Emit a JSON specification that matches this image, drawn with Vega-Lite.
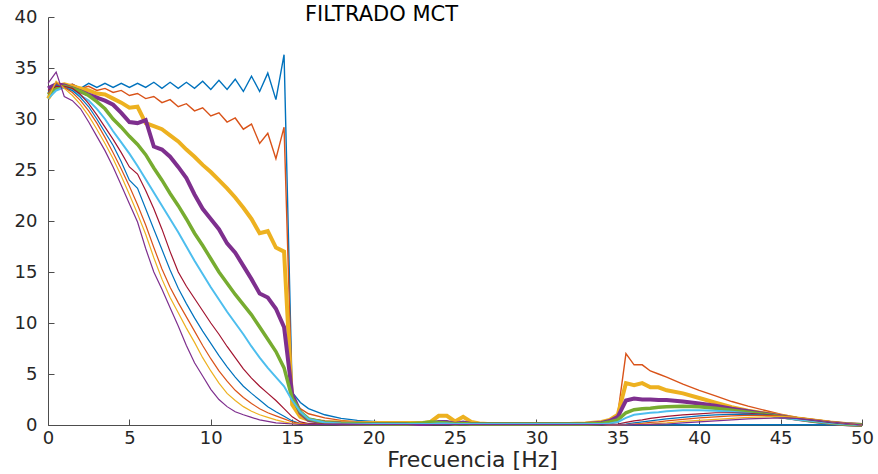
{
"$schema":"https://vega.github.io/schema/vega-lite/v6.json",
"width":814,"height":408,
"autosize":{"type":"none"},
"padding":{"left":48,"top":17,"right":16,"bottom":49},
"background":"white",
"title":{"text":"FILTRADO MCT","anchor":"start","frame":"group","dx":257,"offset":0,"dy":28,"baseline":"middle","fontSize":21,"fontWeight":"normal","font":"DejaVu Sans","color":"#000000"},
"config":{"view":{"stroke":null},"axis":{"grid":false,"domainColor":"#4d4d4d","tickColor":"#4d4d4d","labelColor":"#262626","labelFont":"DejaVu Sans","labelFontSize":18,"labelFlush":false,"labelOverlap":false,"tickSize":-6,"titleFont":"DejaVu Sans","titleFontSize":22,"titleColor":"#262626","titleFontWeight":"normal"}},
"data":{"values":[
{"s":"s01","f":0,"v":32.3},{"s":"s01","f":0.5,"v":33.6},{"s":"s01","f":1,"v":33.0},{"s":"s01","f":1.5,"v":33.4},{"s":"s01","f":2,"v":33.0},{"s":"s01","f":2.5,"v":33.5},{"s":"s01","f":3,"v":33.1},{"s":"s01","f":3.5,"v":33.5},{"s":"s01","f":4,"v":33.1},{"s":"s01","f":4.5,"v":33.5},{"s":"s01","f":5,"v":33.1},{"s":"s01","f":5.5,"v":33.5},{"s":"s01","f":6,"v":33.1},{"s":"s01","f":6.5,"v":33.6},{"s":"s01","f":7,"v":33.0},{"s":"s01","f":7.5,"v":33.6},{"s":"s01","f":8,"v":33.0},{"s":"s01","f":8.5,"v":33.6},{"s":"s01","f":9,"v":33.0},{"s":"s01","f":9.5,"v":33.7},{"s":"s01","f":10,"v":32.9},{"s":"s01","f":10.5,"v":33.8},{"s":"s01","f":11,"v":32.9},{"s":"s01","f":11.5,"v":33.9},{"s":"s01","f":12,"v":32.7},{"s":"s01","f":12.5,"v":34.2},{"s":"s01","f":13,"v":32.7},{"s":"s01","f":13.5,"v":34.5},{"s":"s01","f":14,"v":31.9},{"s":"s01","f":14.5,"v":36.3},{"s":"s01","f":15,"v":3.2},{"s":"s01","f":15.5,"v":2.2},{"s":"s01","f":16,"v":1.6},{"s":"s01","f":17,"v":1.0},{"s":"s01","f":18,"v":0.65},{"s":"s01","f":19,"v":0.45},{"s":"s01","f":20,"v":0.35},{"s":"s01","f":21,"v":0.25},{"s":"s01","f":22,"v":0.2},{"s":"s01","f":23,"v":0.15},{"s":"s01","f":23.5,"v":0.15},{"s":"s01","f":24,"v":0.15},{"s":"s01","f":24.5,"v":0.15},{"s":"s01","f":25,"v":0.12},{"s":"s01","f":25.5,"v":0.12},{"s":"s01","f":26,"v":0.1},{"s":"s01","f":26.5,"v":0.1},{"s":"s01","f":27,"v":0.1},{"s":"s01","f":28,"v":0.1},{"s":"s01","f":29,"v":0.1},{"s":"s01","f":30,"v":0.1},{"s":"s01","f":31,"v":0.1},{"s":"s01","f":32,"v":0.1},{"s":"s01","f":33,"v":0.1},{"s":"s01","f":34,"v":0.08},{"s":"s01","f":34.5,"v":0.05},{"s":"s01","f":35,"v":0.03},{"s":"s01","f":35.5,"v":0.02},{"s":"s01","f":36,"v":0.02},{"s":"s01","f":36.5,"v":0.02},{"s":"s01","f":37,"v":0.02},{"s":"s01","f":37.5,"v":0.02},{"s":"s01","f":38,"v":0.02},{"s":"s01","f":39,"v":0.02},{"s":"s01","f":40,"v":0.02},{"s":"s01","f":41,"v":0.02},{"s":"s01","f":42,"v":0.02},{"s":"s01","f":43,"v":0.02},{"s":"s01","f":44,"v":0.02},{"s":"s01","f":45,"v":0.02},{"s":"s01","f":46,"v":0.02},{"s":"s01","f":47,"v":0.02},{"s":"s01","f":48,"v":0.02},{"s":"s01","f":49,"v":0.02},{"s":"s01","f":50,"v":0},
{"s":"s02","f":0,"v":32.8},{"s":"s02","f":0.5,"v":33.2},{"s":"s02","f":1,"v":33.3},{"s":"s02","f":1.5,"v":33.4},{"s":"s02","f":2,"v":33.0},{"s":"s02","f":2.5,"v":33.2},{"s":"s02","f":3,"v":32.8},{"s":"s02","f":3.5,"v":33.0},{"s":"s02","f":4,"v":32.6},{"s":"s02","f":4.5,"v":32.8},{"s":"s02","f":5,"v":32.3},{"s":"s02","f":5.5,"v":32.5},{"s":"s02","f":6,"v":32.0},{"s":"s02","f":6.5,"v":32.2},{"s":"s02","f":7,"v":31.6},{"s":"s02","f":7.5,"v":31.9},{"s":"s02","f":8,"v":31.2},{"s":"s02","f":8.5,"v":31.5},{"s":"s02","f":9,"v":30.8},{"s":"s02","f":9.5,"v":31.1},{"s":"s02","f":10,"v":30.3},{"s":"s02","f":10.5,"v":30.6},{"s":"s02","f":11,"v":29.7},{"s":"s02","f":11.5,"v":30.1},{"s":"s02","f":12,"v":29.0},{"s":"s02","f":12.5,"v":29.5},{"s":"s02","f":13,"v":27.6},{"s":"s02","f":13.5,"v":28.6},{"s":"s02","f":14,"v":26.1},{"s":"s02","f":14.5,"v":29.2},{"s":"s02","f":15,"v":2.6},{"s":"s02","f":15.5,"v":1.6},{"s":"s02","f":16,"v":1.1},{"s":"s02","f":17,"v":0.7},{"s":"s02","f":18,"v":0.45},{"s":"s02","f":19,"v":0.3},{"s":"s02","f":20,"v":0.25},{"s":"s02","f":21,"v":0.2},{"s":"s02","f":22,"v":0.2},{"s":"s02","f":23,"v":0.15},{"s":"s02","f":23.5,"v":0.15},{"s":"s02","f":24,"v":0.15},{"s":"s02","f":24.5,"v":0.15},{"s":"s02","f":25,"v":0.15},{"s":"s02","f":25.5,"v":0.15},{"s":"s02","f":26,"v":0.12},{"s":"s02","f":26.5,"v":0.1},{"s":"s02","f":27,"v":0.1},{"s":"s02","f":28,"v":0.1},{"s":"s02","f":29,"v":0.1},{"s":"s02","f":30,"v":0.1},{"s":"s02","f":31,"v":0.1},{"s":"s02","f":32,"v":0.1},{"s":"s02","f":33,"v":0.15},{"s":"s02","f":34,"v":0.25},{"s":"s02","f":34.5,"v":0.5},{"s":"s02","f":35,"v":1.1},{"s":"s02","f":35.5,"v":7.0},{"s":"s02","f":36,"v":5.9},{"s":"s02","f":36.5,"v":5.9},{"s":"s02","f":37,"v":5.3},{"s":"s02","f":37.5,"v":5.0},{"s":"s02","f":38,"v":4.7},{"s":"s02","f":39,"v":4.0},{"s":"s02","f":40,"v":3.4},{"s":"s02","f":41,"v":2.85},{"s":"s02","f":42,"v":2.3},{"s":"s02","f":43,"v":1.85},{"s":"s02","f":44,"v":1.45},{"s":"s02","f":45,"v":1.05},{"s":"s02","f":46,"v":0.75},{"s":"s02","f":47,"v":0.5},{"s":"s02","f":48,"v":0.3},{"s":"s02","f":49,"v":0.12},{"s":"s02","f":50,"v":0},
{"s":"s03","f":0,"v":32.0},{"s":"s03","f":0.5,"v":33.2},{"s":"s03","f":1,"v":33.4},{"s":"s03","f":1.5,"v":33.2},{"s":"s03","f":2,"v":33.0},{"s":"s03","f":2.5,"v":32.8},{"s":"s03","f":3,"v":32.5},{"s":"s03","f":3.5,"v":32.4},{"s":"s03","f":4,"v":32.0},{"s":"s03","f":4.5,"v":31.6},{"s":"s03","f":5,"v":31.1},{"s":"s03","f":5.5,"v":31.2},{"s":"s03","f":6,"v":29.6},{"s":"s03","f":6.5,"v":29.3},{"s":"s03","f":7,"v":29.0},{"s":"s03","f":7.5,"v":28.4},{"s":"s03","f":8,"v":27.8},{"s":"s03","f":8.5,"v":27.0},{"s":"s03","f":9,"v":26.3},{"s":"s03","f":9.5,"v":25.5},{"s":"s03","f":10,"v":24.8},{"s":"s03","f":10.5,"v":24.0},{"s":"s03","f":11,"v":23.2},{"s":"s03","f":11.5,"v":22.3},{"s":"s03","f":12,"v":21.3},{"s":"s03","f":12.5,"v":20.2},{"s":"s03","f":13,"v":18.8},{"s":"s03","f":13.5,"v":19.0},{"s":"s03","f":14,"v":17.4},{"s":"s03","f":14.5,"v":17.0},{"s":"s03","f":15,"v":2.0},{"s":"s03","f":15.5,"v":0.8},{"s":"s03","f":16,"v":0.5},{"s":"s03","f":17,"v":0.3},{"s":"s03","f":18,"v":0.25},{"s":"s03","f":19,"v":0.2},{"s":"s03","f":20,"v":0.2},{"s":"s03","f":21,"v":0.2},{"s":"s03","f":22,"v":0.2},{"s":"s03","f":23,"v":0.2},{"s":"s03","f":23.5,"v":0.3},{"s":"s03","f":24,"v":0.9},{"s":"s03","f":24.5,"v":0.9},{"s":"s03","f":25,"v":0.35},{"s":"s03","f":25.5,"v":0.8},{"s":"s03","f":26,"v":0.3},{"s":"s03","f":26.5,"v":0.15},{"s":"s03","f":27,"v":0.1},{"s":"s03","f":28,"v":0.1},{"s":"s03","f":29,"v":0.1},{"s":"s03","f":30,"v":0.1},{"s":"s03","f":31,"v":0.1},{"s":"s03","f":32,"v":0.1},{"s":"s03","f":33,"v":0.15},{"s":"s03","f":34,"v":0.3},{"s":"s03","f":34.5,"v":0.5},{"s":"s03","f":35,"v":1.0},{"s":"s03","f":35.5,"v":4.1},{"s":"s03","f":36,"v":3.9},{"s":"s03","f":36.5,"v":4.1},{"s":"s03","f":37,"v":3.7},{"s":"s03","f":37.5,"v":3.7},{"s":"s03","f":38,"v":3.4},{"s":"s03","f":39,"v":3.1},{"s":"s03","f":40,"v":2.65},{"s":"s03","f":41,"v":2.2},{"s":"s03","f":42,"v":1.75},{"s":"s03","f":43,"v":1.4},{"s":"s03","f":44,"v":1.15},{"s":"s03","f":45,"v":0.9},{"s":"s03","f":46,"v":0.65},{"s":"s03","f":47,"v":0.45},{"s":"s03","f":48,"v":0.25},{"s":"s03","f":49,"v":0.1},{"s":"s03","f":50,"v":0},
{"s":"s04","f":0,"v":33.0},{"s":"s04","f":0.5,"v":33.4},{"s":"s04","f":1,"v":33.3},{"s":"s04","f":1.5,"v":33.0},{"s":"s04","f":2,"v":32.7},{"s":"s04","f":2.5,"v":32.4},{"s":"s04","f":3,"v":32.1},{"s":"s04","f":3.5,"v":31.8},{"s":"s04","f":4,"v":31.4},{"s":"s04","f":4.5,"v":30.6},{"s":"s04","f":5,"v":29.7},{"s":"s04","f":5.5,"v":29.6},{"s":"s04","f":6,"v":29.9},{"s":"s04","f":6.5,"v":27.3},{"s":"s04","f":7,"v":27.0},{"s":"s04","f":7.5,"v":26.3},{"s":"s04","f":8,"v":25.3},{"s":"s04","f":8.5,"v":24.2},{"s":"s04","f":9,"v":22.6},{"s":"s04","f":9.5,"v":21.2},{"s":"s04","f":10,"v":20.2},{"s":"s04","f":10.5,"v":19.2},{"s":"s04","f":11,"v":17.8},{"s":"s04","f":11.5,"v":16.9},{"s":"s04","f":12,"v":15.6},{"s":"s04","f":12.5,"v":14.3},{"s":"s04","f":13,"v":12.9},{"s":"s04","f":13.5,"v":12.5},{"s":"s04","f":14,"v":11.4},{"s":"s04","f":14.5,"v":9.6},{"s":"s04","f":15,"v":3.0},{"s":"s04","f":15.5,"v":1.2},{"s":"s04","f":16,"v":0.5},{"s":"s04","f":17,"v":0.25},{"s":"s04","f":18,"v":0.15},{"s":"s04","f":19,"v":0.12},{"s":"s04","f":20,"v":0.1},{"s":"s04","f":21,"v":0.1},{"s":"s04","f":22,"v":0.1},{"s":"s04","f":23,"v":0.1},{"s":"s04","f":23.5,"v":0.15},{"s":"s04","f":24,"v":0.3},{"s":"s04","f":24.5,"v":0.3},{"s":"s04","f":25,"v":0.1},{"s":"s04","f":25.5,"v":0.25},{"s":"s04","f":26,"v":0.1},{"s":"s04","f":26.5,"v":0.1},{"s":"s04","f":27,"v":0.1},{"s":"s04","f":28,"v":0.1},{"s":"s04","f":29,"v":0.1},{"s":"s04","f":30,"v":0.1},{"s":"s04","f":31,"v":0.1},{"s":"s04","f":32,"v":0.1},{"s":"s04","f":33,"v":0.1},{"s":"s04","f":34,"v":0.2},{"s":"s04","f":34.5,"v":0.4},{"s":"s04","f":35,"v":0.8},{"s":"s04","f":35.5,"v":2.4},{"s":"s04","f":36,"v":2.6},{"s":"s04","f":36.5,"v":2.5},{"s":"s04","f":37,"v":2.5},{"s":"s04","f":37.5,"v":2.45},{"s":"s04","f":38,"v":2.45},{"s":"s04","f":39,"v":2.3},{"s":"s04","f":40,"v":2.1},{"s":"s04","f":41,"v":1.9},{"s":"s04","f":42,"v":1.6},{"s":"s04","f":43,"v":1.35},{"s":"s04","f":44,"v":1.1},{"s":"s04","f":45,"v":0.85},{"s":"s04","f":46,"v":0.6},{"s":"s04","f":47,"v":0.4},{"s":"s04","f":48,"v":0.22},{"s":"s04","f":49,"v":0.08},{"s":"s04","f":50,"v":0},
{"s":"s05","f":0,"v":32.4},{"s":"s05","f":0.5,"v":33.0},{"s":"s05","f":1,"v":33.2},{"s":"s05","f":1.5,"v":33.0},{"s":"s05","f":2,"v":32.7},{"s":"s05","f":2.5,"v":32.3},{"s":"s05","f":3,"v":31.7},{"s":"s05","f":3.5,"v":31.0},{"s":"s05","f":4,"v":30.0},{"s":"s05","f":4.5,"v":29.2},{"s":"s05","f":5,"v":28.3},{"s":"s05","f":5.5,"v":27.5},{"s":"s05","f":6,"v":26.5},{"s":"s05","f":6.5,"v":25.2},{"s":"s05","f":7,"v":24.0},{"s":"s05","f":7.5,"v":22.7},{"s":"s05","f":8,"v":21.5},{"s":"s05","f":8.5,"v":20.2},{"s":"s05","f":9,"v":18.8},{"s":"s05","f":9.5,"v":17.6},{"s":"s05","f":10,"v":16.3},{"s":"s05","f":10.5,"v":15.0},{"s":"s05","f":11,"v":13.9},{"s":"s05","f":11.5,"v":12.8},{"s":"s05","f":12,"v":11.8},{"s":"s05","f":12.5,"v":10.8},{"s":"s05","f":13,"v":9.6},{"s":"s05","f":13.5,"v":8.4},{"s":"s05","f":14,"v":7.2},{"s":"s05","f":14.5,"v":5.6},{"s":"s05","f":15,"v":2.6},{"s":"s05","f":15.5,"v":1.3},{"s":"s05","f":16,"v":0.6},{"s":"s05","f":17,"v":0.25},{"s":"s05","f":18,"v":0.15},{"s":"s05","f":19,"v":0.12},{"s":"s05","f":20,"v":0.1},{"s":"s05","f":21,"v":0.1},{"s":"s05","f":22,"v":0.1},{"s":"s05","f":23,"v":0.2},{"s":"s05","f":23.5,"v":0.3},{"s":"s05","f":24,"v":0.25},{"s":"s05","f":24.5,"v":0.2},{"s":"s05","f":25,"v":0.1},{"s":"s05","f":25.5,"v":0.15},{"s":"s05","f":26,"v":0.1},{"s":"s05","f":26.5,"v":0.1},{"s":"s05","f":27,"v":0.1},{"s":"s05","f":28,"v":0.1},{"s":"s05","f":29,"v":0.1},{"s":"s05","f":30,"v":0.1},{"s":"s05","f":31,"v":0.1},{"s":"s05","f":32,"v":0.1},{"s":"s05","f":33,"v":0.1},{"s":"s05","f":34,"v":0.15},{"s":"s05","f":34.5,"v":0.3},{"s":"s05","f":35,"v":0.5},{"s":"s05","f":35.5,"v":1.2},{"s":"s05","f":36,"v":1.5},{"s":"s05","f":36.5,"v":1.6},{"s":"s05","f":37,"v":1.65},{"s":"s05","f":37.5,"v":1.75},{"s":"s05","f":38,"v":1.8},{"s":"s05","f":39,"v":1.85},{"s":"s05","f":40,"v":1.8},{"s":"s05","f":41,"v":1.65},{"s":"s05","f":42,"v":1.45},{"s":"s05","f":43,"v":1.25},{"s":"s05","f":44,"v":1.05},{"s":"s05","f":45,"v":0.8},{"s":"s05","f":46,"v":0.6},{"s":"s05","f":47,"v":0.4},{"s":"s05","f":48,"v":0.22},{"s":"s05","f":49,"v":0.08},{"s":"s05","f":50,"v":0},
{"s":"s06","f":0,"v":32.0},{"s":"s06","f":0.5,"v":32.8},{"s":"s06","f":1,"v":33.1},{"s":"s06","f":1.5,"v":32.8},{"s":"s06","f":2,"v":32.3},{"s":"s06","f":2.5,"v":31.8},{"s":"s06","f":3,"v":31.0},{"s":"s06","f":3.5,"v":30.0},{"s":"s06","f":4,"v":28.8},{"s":"s06","f":4.5,"v":27.7},{"s":"s06","f":5,"v":26.6},{"s":"s06","f":5.5,"v":25.4},{"s":"s06","f":6,"v":24.1},{"s":"s06","f":6.5,"v":22.8},{"s":"s06","f":7,"v":21.5},{"s":"s06","f":7.5,"v":20.2},{"s":"s06","f":8,"v":18.9},{"s":"s06","f":8.5,"v":17.5},{"s":"s06","f":9,"v":16.1},{"s":"s06","f":9.5,"v":14.8},{"s":"s06","f":10,"v":13.5},{"s":"s06","f":10.5,"v":12.3},{"s":"s06","f":11,"v":11.1},{"s":"s06","f":11.5,"v":10.0},{"s":"s06","f":12,"v":8.9},{"s":"s06","f":12.5,"v":7.7},{"s":"s06","f":13,"v":6.6},{"s":"s06","f":13.5,"v":5.6},{"s":"s06","f":14,"v":4.7},{"s":"s06","f":14.5,"v":3.8},{"s":"s06","f":15,"v":2.4},{"s":"s06","f":15.5,"v":1.3},{"s":"s06","f":16,"v":0.6},{"s":"s06","f":17,"v":0.25},{"s":"s06","f":18,"v":0.15},{"s":"s06","f":19,"v":0.1},{"s":"s06","f":20,"v":0.1},{"s":"s06","f":21,"v":0.1},{"s":"s06","f":22,"v":0.1},{"s":"s06","f":23,"v":0.1},{"s":"s06","f":23.5,"v":0.1},{"s":"s06","f":24,"v":0.15},{"s":"s06","f":24.5,"v":0.15},{"s":"s06","f":25,"v":0.1},{"s":"s06","f":25.5,"v":0.1},{"s":"s06","f":26,"v":0.1},{"s":"s06","f":26.5,"v":0.1},{"s":"s06","f":27,"v":0.1},{"s":"s06","f":28,"v":0.1},{"s":"s06","f":29,"v":0.1},{"s":"s06","f":30,"v":0.1},{"s":"s06","f":31,"v":0.1},{"s":"s06","f":32,"v":0.1},{"s":"s06","f":33,"v":0.1},{"s":"s06","f":34,"v":0.1},{"s":"s06","f":34.5,"v":0.15},{"s":"s06","f":35,"v":0.3},{"s":"s06","f":35.5,"v":0.7},{"s":"s06","f":36,"v":1.0},{"s":"s06","f":36.5,"v":1.1},{"s":"s06","f":37,"v":1.2},{"s":"s06","f":37.5,"v":1.25},{"s":"s06","f":38,"v":1.35},{"s":"s06","f":39,"v":1.45},{"s":"s06","f":40,"v":1.45},{"s":"s06","f":41,"v":1.4},{"s":"s06","f":42,"v":1.3},{"s":"s06","f":43,"v":1.15},{"s":"s06","f":44,"v":0.95},{"s":"s06","f":45,"v":0.75},{"s":"s06","f":46,"v":0.55},{"s":"s06","f":47,"v":0.38},{"s":"s06","f":48,"v":0.2},{"s":"s06","f":49,"v":0.07},{"s":"s06","f":50,"v":0},
{"s":"s07","f":0,"v":32.8},{"s":"s07","f":0.5,"v":33.2},{"s":"s07","f":1,"v":33.2},{"s":"s07","f":1.5,"v":33.0},{"s":"s07","f":2,"v":32.4},{"s":"s07","f":2.5,"v":31.5},{"s":"s07","f":3,"v":30.4},{"s":"s07","f":3.5,"v":29.2},{"s":"s07","f":4,"v":28.0},{"s":"s07","f":4.5,"v":26.7},{"s":"s07","f":5,"v":25.3},{"s":"s07","f":5.5,"v":24.6},{"s":"s07","f":6,"v":23.0},{"s":"s07","f":6.5,"v":21.2},{"s":"s07","f":7,"v":19.2},{"s":"s07","f":7.5,"v":17.0},{"s":"s07","f":8,"v":15.0},{"s":"s07","f":8.5,"v":13.6},{"s":"s07","f":9,"v":12.4},{"s":"s07","f":9.5,"v":11.2},{"s":"s07","f":10,"v":10.0},{"s":"s07","f":10.5,"v":8.9},{"s":"s07","f":11,"v":7.7},{"s":"s07","f":11.5,"v":6.6},{"s":"s07","f":12,"v":5.5},{"s":"s07","f":12.5,"v":4.6},{"s":"s07","f":13,"v":3.8},{"s":"s07","f":13.5,"v":3.1},{"s":"s07","f":14,"v":2.4},{"s":"s07","f":14.5,"v":1.6},{"s":"s07","f":15,"v":0.8},{"s":"s07","f":15.5,"v":0.3},{"s":"s07","f":16,"v":0.15},{"s":"s07","f":17,"v":0.1},{"s":"s07","f":18,"v":0.08},{"s":"s07","f":19,"v":0.06},{"s":"s07","f":20,"v":0.05},{"s":"s07","f":21,"v":0.05},{"s":"s07","f":22,"v":0.05},{"s":"s07","f":23,"v":0.05},{"s":"s07","f":23.5,"v":0.05},{"s":"s07","f":24,"v":0.05},{"s":"s07","f":24.5,"v":0.05},{"s":"s07","f":25,"v":0.05},{"s":"s07","f":25.5,"v":0.05},{"s":"s07","f":26,"v":0.05},{"s":"s07","f":26.5,"v":0.05},{"s":"s07","f":27,"v":0.05},{"s":"s07","f":28,"v":0.05},{"s":"s07","f":29,"v":0.05},{"s":"s07","f":30,"v":0.05},{"s":"s07","f":31,"v":0.05},{"s":"s07","f":32,"v":0.05},{"s":"s07","f":33,"v":0.05},{"s":"s07","f":34,"v":0.05},{"s":"s07","f":34.5,"v":0.05},{"s":"s07","f":35,"v":0.1},{"s":"s07","f":35.5,"v":0.25},{"s":"s07","f":36,"v":0.4},{"s":"s07","f":36.5,"v":0.5},{"s":"s07","f":37,"v":0.65},{"s":"s07","f":37.5,"v":0.75},{"s":"s07","f":38,"v":0.85},{"s":"s07","f":39,"v":1.0},{"s":"s07","f":40,"v":1.1},{"s":"s07","f":41,"v":1.2},{"s":"s07","f":42,"v":1.2},{"s":"s07","f":43,"v":1.15},{"s":"s07","f":44,"v":1.05},{"s":"s07","f":45,"v":0.85},{"s":"s07","f":46,"v":0.65},{"s":"s07","f":47,"v":0.45},{"s":"s07","f":48,"v":0.25},{"s":"s07","f":49,"v":0.1},{"s":"s07","f":50,"v":0},
{"s":"s08","f":0,"v":32.6},{"s":"s08","f":0.5,"v":33.4},{"s":"s08","f":1,"v":33.1},{"s":"s08","f":1.5,"v":32.8},{"s":"s08","f":2,"v":32.1},{"s":"s08","f":2.5,"v":31.2},{"s":"s08","f":3,"v":30.0},{"s":"s08","f":3.5,"v":28.7},{"s":"s08","f":4,"v":27.4},{"s":"s08","f":4.5,"v":25.8},{"s":"s08","f":5,"v":24.0},{"s":"s08","f":5.5,"v":23.2},{"s":"s08","f":6,"v":21.2},{"s":"s08","f":6.5,"v":19.2},{"s":"s08","f":7,"v":17.2},{"s":"s08","f":7.5,"v":15.2},{"s":"s08","f":8,"v":13.4},{"s":"s08","f":8.5,"v":11.9},{"s":"s08","f":9,"v":10.5},{"s":"s08","f":9.5,"v":9.2},{"s":"s08","f":10,"v":8.0},{"s":"s08","f":10.5,"v":6.8},{"s":"s08","f":11,"v":5.7},{"s":"s08","f":11.5,"v":4.7},{"s":"s08","f":12,"v":3.8},{"s":"s08","f":12.5,"v":3.1},{"s":"s08","f":13,"v":2.45},{"s":"s08","f":13.5,"v":1.8},{"s":"s08","f":14,"v":1.3},{"s":"s08","f":14.5,"v":0.85},{"s":"s08","f":15,"v":0.4},{"s":"s08","f":15.5,"v":0.15},{"s":"s08","f":16,"v":0.08},{"s":"s08","f":17,"v":0.05},{"s":"s08","f":18,"v":0.05},{"s":"s08","f":19,"v":0.05},{"s":"s08","f":20,"v":0.05},{"s":"s08","f":21,"v":0.05},{"s":"s08","f":22,"v":0.05},{"s":"s08","f":23,"v":0.05},{"s":"s08","f":23.5,"v":0.05},{"s":"s08","f":24,"v":0.05},{"s":"s08","f":24.5,"v":0.05},{"s":"s08","f":25,"v":0.05},{"s":"s08","f":25.5,"v":0.05},{"s":"s08","f":26,"v":0.05},{"s":"s08","f":26.5,"v":0.05},{"s":"s08","f":27,"v":0.05},{"s":"s08","f":28,"v":0.05},{"s":"s08","f":29,"v":0.05},{"s":"s08","f":30,"v":0.05},{"s":"s08","f":31,"v":0.05},{"s":"s08","f":32,"v":0.05},{"s":"s08","f":33,"v":0.05},{"s":"s08","f":34,"v":0.05},{"s":"s08","f":34.5,"v":0.02},{"s":"s08","f":35,"v":0.05},{"s":"s08","f":35.5,"v":0.1},{"s":"s08","f":36,"v":0.2},{"s":"s08","f":36.5,"v":0.3},{"s":"s08","f":37,"v":0.4},{"s":"s08","f":37.5,"v":0.5},{"s":"s08","f":38,"v":0.6},{"s":"s08","f":39,"v":0.75},{"s":"s08","f":40,"v":0.9},{"s":"s08","f":41,"v":1.0},{"s":"s08","f":42,"v":1.05},{"s":"s08","f":43,"v":1.05},{"s":"s08","f":44,"v":1.0},{"s":"s08","f":45,"v":0.9},{"s":"s08","f":46,"v":0.7},{"s":"s08","f":47,"v":0.5},{"s":"s08","f":48,"v":0.3},{"s":"s08","f":49,"v":0.12},{"s":"s08","f":50,"v":0},
{"s":"s09","f":0,"v":32.5},{"s":"s09","f":0.5,"v":33.5},{"s":"s09","f":1,"v":33.1},{"s":"s09","f":1.5,"v":32.6},{"s":"s09","f":2,"v":31.8},{"s":"s09","f":2.5,"v":30.8},{"s":"s09","f":3,"v":29.6},{"s":"s09","f":3.5,"v":28.2},{"s":"s09","f":4,"v":26.7},{"s":"s09","f":4.5,"v":25.1},{"s":"s09","f":5,"v":23.4},{"s":"s09","f":5.5,"v":21.6},{"s":"s09","f":6,"v":19.6},{"s":"s09","f":6.5,"v":17.4},{"s":"s09","f":7,"v":15.3},{"s":"s09","f":7.5,"v":13.5},{"s":"s09","f":8,"v":12.0},{"s":"s09","f":8.5,"v":10.6},{"s":"s09","f":9,"v":9.2},{"s":"s09","f":9.5,"v":7.8},{"s":"s09","f":10,"v":6.5},{"s":"s09","f":10.5,"v":5.3},{"s":"s09","f":11,"v":4.3},{"s":"s09","f":11.5,"v":3.4},{"s":"s09","f":12,"v":2.7},{"s":"s09","f":12.5,"v":2.1},{"s":"s09","f":13,"v":1.6},{"s":"s09","f":13.5,"v":1.2},{"s":"s09","f":14,"v":0.9},{"s":"s09","f":14.5,"v":0.6},{"s":"s09","f":15,"v":0.3},{"s":"s09","f":15.5,"v":0.15},{"s":"s09","f":16,"v":0.08},{"s":"s09","f":17,"v":0.05},{"s":"s09","f":18,"v":0.05},{"s":"s09","f":19,"v":0.05},{"s":"s09","f":20,"v":0.05},{"s":"s09","f":21,"v":0.05},{"s":"s09","f":22,"v":0.05},{"s":"s09","f":23,"v":0.05},{"s":"s09","f":23.5,"v":0.05},{"s":"s09","f":24,"v":0.05},{"s":"s09","f":24.5,"v":0.05},{"s":"s09","f":25,"v":0.05},{"s":"s09","f":25.5,"v":0.05},{"s":"s09","f":26,"v":0.05},{"s":"s09","f":26.5,"v":0.05},{"s":"s09","f":27,"v":0.05},{"s":"s09","f":28,"v":0.05},{"s":"s09","f":29,"v":0.05},{"s":"s09","f":30,"v":0.05},{"s":"s09","f":31,"v":0.05},{"s":"s09","f":32,"v":0.05},{"s":"s09","f":33,"v":0.05},{"s":"s09","f":34,"v":0.05},{"s":"s09","f":34.5,"v":0.02},{"s":"s09","f":35,"v":0.03},{"s":"s09","f":35.5,"v":0.05},{"s":"s09","f":36,"v":0.1},{"s":"s09","f":36.5,"v":0.15},{"s":"s09","f":37,"v":0.25},{"s":"s09","f":37.5,"v":0.3},{"s":"s09","f":38,"v":0.4},{"s":"s09","f":39,"v":0.55},{"s":"s09","f":40,"v":0.7},{"s":"s09","f":41,"v":0.8},{"s":"s09","f":42,"v":0.9},{"s":"s09","f":43,"v":0.95},{"s":"s09","f":44,"v":0.95},{"s":"s09","f":45,"v":0.9},{"s":"s09","f":46,"v":0.75},{"s":"s09","f":47,"v":0.55},{"s":"s09","f":48,"v":0.35},{"s":"s09","f":49,"v":0.15},{"s":"s09","f":50,"v":0},
{"s":"s10","f":0,"v":32.0},{"s":"s10","f":0.5,"v":33.7},{"s":"s10","f":1,"v":33.0},{"s":"s10","f":1.5,"v":32.3},{"s":"s10","f":2,"v":31.4},{"s":"s10","f":2.5,"v":30.3},{"s":"s10","f":3,"v":29.0},{"s":"s10","f":3.5,"v":27.6},{"s":"s10","f":4,"v":26.1},{"s":"s10","f":4.5,"v":24.4},{"s":"s10","f":5,"v":22.6},{"s":"s10","f":5.5,"v":20.7},{"s":"s10","f":6,"v":18.7},{"s":"s10","f":6.5,"v":16.4},{"s":"s10","f":7,"v":14.3},{"s":"s10","f":7.5,"v":12.5},{"s":"s10","f":8,"v":11.0},{"s":"s10","f":8.5,"v":9.5},{"s":"s10","f":9,"v":8.1},{"s":"s10","f":9.5,"v":6.6},{"s":"s10","f":10,"v":5.3},{"s":"s10","f":10.5,"v":4.1},{"s":"s10","f":11,"v":3.1},{"s":"s10","f":11.5,"v":2.4},{"s":"s10","f":12,"v":1.8},{"s":"s10","f":12.5,"v":1.35},{"s":"s10","f":13,"v":1.0},{"s":"s10","f":13.5,"v":0.75},{"s":"s10","f":14,"v":0.5},{"s":"s10","f":14.5,"v":0.3},{"s":"s10","f":15,"v":0.15},{"s":"s10","f":15.5,"v":0.1},{"s":"s10","f":16,"v":0.05},{"s":"s10","f":17,"v":0.05},{"s":"s10","f":18,"v":0.05},{"s":"s10","f":19,"v":0.05},{"s":"s10","f":20,"v":0.05},{"s":"s10","f":21,"v":0.05},{"s":"s10","f":22,"v":0.05},{"s":"s10","f":23,"v":0.05},{"s":"s10","f":23.5,"v":0.05},{"s":"s10","f":24,"v":0.05},{"s":"s10","f":24.5,"v":0.05},{"s":"s10","f":25,"v":0.05},{"s":"s10","f":25.5,"v":0.05},{"s":"s10","f":26,"v":0.05},{"s":"s10","f":26.5,"v":0.05},{"s":"s10","f":27,"v":0.05},{"s":"s10","f":28,"v":0.05},{"s":"s10","f":29,"v":0.05},{"s":"s10","f":30,"v":0.05},{"s":"s10","f":31,"v":0.05},{"s":"s10","f":32,"v":0.05},{"s":"s10","f":33,"v":0.05},{"s":"s10","f":34,"v":0.05},{"s":"s10","f":34.5,"v":0.02},{"s":"s10","f":35,"v":0.02},{"s":"s10","f":35.5,"v":0.03},{"s":"s10","f":36,"v":0.05},{"s":"s10","f":36.5,"v":0.08},{"s":"s10","f":37,"v":0.1},{"s":"s10","f":37.5,"v":0.15},{"s":"s10","f":38,"v":0.2},{"s":"s10","f":39,"v":0.35},{"s":"s10","f":40,"v":0.45},{"s":"s10","f":41,"v":0.55},{"s":"s10","f":42,"v":0.65},{"s":"s10","f":43,"v":0.75},{"s":"s10","f":44,"v":0.8},{"s":"s10","f":45,"v":0.85},{"s":"s10","f":46,"v":0.75},{"s":"s10","f":47,"v":0.55},{"s":"s10","f":48,"v":0.35},{"s":"s10","f":49,"v":0.15},{"s":"s10","f":50,"v":0},
{"s":"s11","f":0,"v":33.5},{"s":"s11","f":0.5,"v":34.6},{"s":"s11","f":1,"v":32.2},{"s":"s11","f":1.5,"v":31.8},{"s":"s11","f":2,"v":31.0},{"s":"s11","f":2.5,"v":29.7},{"s":"s11","f":3,"v":28.3},{"s":"s11","f":3.5,"v":26.9},{"s":"s11","f":4,"v":25.3},{"s":"s11","f":4.5,"v":23.5},{"s":"s11","f":5,"v":21.7},{"s":"s11","f":5.5,"v":19.9},{"s":"s11","f":6,"v":17.3},{"s":"s11","f":6.5,"v":15.0},{"s":"s11","f":7,"v":13.3},{"s":"s11","f":7.5,"v":11.5},{"s":"s11","f":8,"v":9.7},{"s":"s11","f":8.5,"v":7.8},{"s":"s11","f":9,"v":6.1},{"s":"s11","f":9.5,"v":4.8},{"s":"s11","f":10,"v":3.5},{"s":"s11","f":10.5,"v":2.5},{"s":"s11","f":11,"v":1.8},{"s":"s11","f":11.5,"v":1.3},{"s":"s11","f":12,"v":1.0},{"s":"s11","f":12.5,"v":0.75},{"s":"s11","f":13,"v":0.5},{"s":"s11","f":13.5,"v":0.35},{"s":"s11","f":14,"v":0.2},{"s":"s11","f":14.5,"v":0.15},{"s":"s11","f":15,"v":0.1},{"s":"s11","f":15.5,"v":0.05},{"s":"s11","f":16,"v":0.05},{"s":"s11","f":17,"v":0.05},{"s":"s11","f":18,"v":0.05},{"s":"s11","f":19,"v":0.05},{"s":"s11","f":20,"v":0.05},{"s":"s11","f":21,"v":0.05},{"s":"s11","f":22,"v":0.05},{"s":"s11","f":23,"v":0.05},{"s":"s11","f":23.5,"v":0.05},{"s":"s11","f":24,"v":0.05},{"s":"s11","f":24.5,"v":0.05},{"s":"s11","f":25,"v":0.05},{"s":"s11","f":25.5,"v":0.05},{"s":"s11","f":26,"v":0.05},{"s":"s11","f":26.5,"v":0.05},{"s":"s11","f":27,"v":0.05},{"s":"s11","f":28,"v":0.05},{"s":"s11","f":29,"v":0.05},{"s":"s11","f":30,"v":0.05},{"s":"s11","f":31,"v":0.05},{"s":"s11","f":32,"v":0.05},{"s":"s11","f":33,"v":0.05},{"s":"s11","f":34,"v":0.05},{"s":"s11","f":34.5,"v":0.01},{"s":"s11","f":35,"v":0.01},{"s":"s11","f":35.5,"v":0.02},{"s":"s11","f":36,"v":0.03},{"s":"s11","f":36.5,"v":0.05},{"s":"s11","f":37,"v":0.06},{"s":"s11","f":37.5,"v":0.08},{"s":"s11","f":38,"v":0.1},{"s":"s11","f":39,"v":0.2},{"s":"s11","f":40,"v":0.3},{"s":"s11","f":41,"v":0.4},{"s":"s11","f":42,"v":0.5},{"s":"s11","f":43,"v":0.6},{"s":"s11","f":44,"v":0.65},{"s":"s11","f":45,"v":0.7},{"s":"s11","f":46,"v":0.65},{"s":"s11","f":47,"v":0.5},{"s":"s11","f":48,"v":0.32},{"s":"s11","f":49,"v":0.15},{"s":"s11","f":50,"v":0}
]},
"encoding":{
"x":{"field":"f","type":"quantitative","scale":{"domain":[0,50],"nice":false},"axis":{"title":"Frecuencia [Hz]","values":[0,5,10,15,20,25,30,35,40,45,50],"labelPadding":10,"titlePadding":2,"titleX":424}},
"y":{"field":"v","type":"quantitative","scale":{"domain":[0,40],"nice":false},"axis":{"title":null,"values":[0,5,10,15,20,25,30,35,40],"labelPadding":17}},
"color":{"field":"s","type":"nominal","scale":{"domain":["s01","s02","s03","s04","s05","s06","s07","s08","s09","s10","s11"],"range":["#0072BD","#D95319","#EDB120","#7E2F8E","#77AC30","#4DBEEE","#A2142F","#0072BD","#D95319","#EDB120","#7E2F8E"]},"legend":null}
},
"layer":[
{"transform":[{"filter":{"field":"s","oneOf":["s01","s02"]}}],"mark":{"type":"line","strokeWidth":1.4}},
{"transform":[{"filter":{"field":"s","oneOf":["s03","s04"]}}],"mark":{"type":"line","strokeWidth":4}},
{"transform":[{"filter":{"field":"s","oneOf":["s05"]}}],"mark":{"type":"line","strokeWidth":3.5}},
{"transform":[{"filter":{"field":"s","oneOf":["s06"]}}],"mark":{"type":"line","strokeWidth":2}},
{"transform":[{"filter":{"field":"s","oneOf":["s07","s08","s09","s10","s11"]}}],"mark":{"type":"line","strokeWidth":1.2}}
]
}
